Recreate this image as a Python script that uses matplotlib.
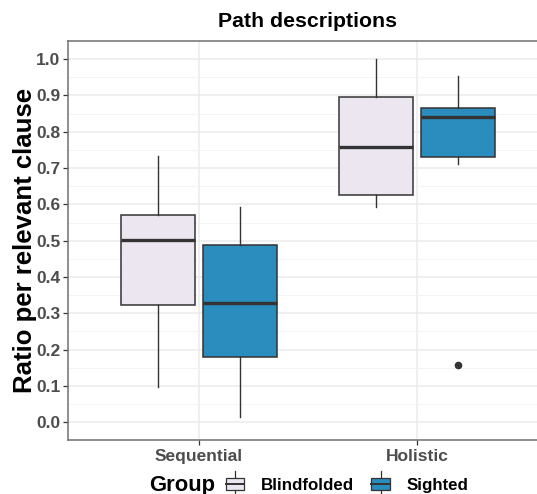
import matplotlib
matplotlib.use("Agg")
import matplotlib.pyplot as plt
from matplotlib.patches import Rectangle
from matplotlib.lines import Line2D
from matplotlib.legend_handler import HandlerBase
import numpy as np

plt.rcParams['font.family'] = ['Liberation Sans', 'DejaVu Sans']

categories = ["Sequential", "Holistic"]
groups = ["Blindfolded", "Sighted"]
colors = ["#ECE6F1", "#2B8CBE"]

# per group: values for [Sequential, Holistic]
whislo = {"Blindfolded": [0.097, 0.593], "Sighted": [0.015, 0.711]}
q1 = {"Blindfolded": [0.323, 0.626], "Sighted": [0.180, 0.731]}
med = {"Blindfolded": [0.501, 0.758], "Sighted": [0.328, 0.841]}
q3 = {"Blindfolded": [0.571, 0.896], "Sighted": [0.488, 0.866]}
whishi = {"Blindfolded": [0.734, 1.000], "Sighted": [0.593, 0.954]}
fliers = {"Blindfolded": [[], []], "Sighted": [[], [0.158]]}

W, H = 537, 494
fig = plt.figure(figsize=(W / 100, H / 100), dpi=100)
ax = fig.add_axes([68 / W, (H - 440) / H, (548 - 68) / W, (440 - 41) / H])

edge = "#333333"
offsets = [-0.1875, 0.1875]
bw = 0.3375
for gi, g in enumerate(groups):
    stats = []
    for ci in range(len(categories)):
        stats.append(dict(whislo=whislo[g][ci], q1=q1[g][ci], med=med[g][ci],
                          q3=q3[g][ci], whishi=whishi[g][ci], fliers=fliers[g][ci]))
    pos = [ci + 1 + offsets[gi] for ci in range(len(categories))]
    ax.bxp(stats, positions=pos, widths=bw, patch_artist=True, showcaps=False,
           boxprops=dict(facecolor=colors[gi], edgecolor=edge, linewidth=1.1),
           medianprops=dict(color=edge, linewidth=2.4, solid_capstyle='butt'),
           whiskerprops=dict(color=edge, linewidth=1.0),
           flierprops=dict(marker='o', markerfacecolor=edge, markeredgecolor=edge,
                           markersize=4.5), zorder=3)

ax.set_xlim(0.4, 2.6)
ax.set_ylim(-0.049, 1.050)
ax.set_xticks([1, 2])
ax.set_xticklabels(categories)
ax.set_yticks(np.round(np.arange(0, 1.01, 0.1), 1))
ax.set_yticklabels([f"{v:.1f}" for v in np.arange(0, 1.01, 0.1)])
ax.set_yticks(np.arange(0.05, 1.0, 0.1), minor=True)

ax.grid(True, which='major', color='#EBEBEB', linewidth=1.1, zorder=0)
ax.grid(True, which='minor', axis='y', color='#F2F2F2', linewidth=0.6, zorder=0)
ax.set_axisbelow(True)
for s in ax.spines.values():
    s.set_color('#707070')
    s.set_linewidth(1.1)

ax.tick_params(axis='both', which='major', length=3.5, width=0.9, color='#333333',
               labelcolor='#4D4D4D', labelsize=12.5, pad=2)
ax.tick_params(axis='x', which='major', pad=3)
ax.tick_params(axis='y', which='minor', length=0)
for lab in ax.get_xticklabels() + ax.get_yticklabels():
    lab.set_fontweight('bold')

ax.set_ylabel("Ratio per relevant clause", fontsize=18.5, fontweight='bold')
ax.yaxis.set_label_coords(-0.064, 0.5)
ax.set_title("Path descriptions", fontsize=15.3, fontweight='bold', pad=10)


class BoxHandler(HandlerBase):
    def __init__(self, fc):
        super().__init__()
        self.fc = fc

    def create_artists(self, legend, orig_handle, xdescent, ydescent, width, height,
                       fontsize, trans):
        x0, y0 = -xdescent, -ydescent
        bx0 = x0 + width * 0.08
        bx1 = x0 + width * 0.92
        by0 = y0
        by1 = y0 + height
        rect = Rectangle((bx0, by0), bx1 - bx0, by1 - by0, facecolor=self.fc,
                         edgecolor=edge, linewidth=0.9, transform=trans)
        cx = (bx0 + bx1) / 2
        ym = (by0 + by1) / 2
        m = Line2D([bx0, bx1], [ym, ym], color=edge, linewidth=1.4, transform=trans)
        w1 = Line2D([cx, cx], [by1, by1 + height * 0.55], color=edge, linewidth=0.9, transform=trans)
        w2 = Line2D([cx, cx], [by0, by0 - height * 0.55], color=edge, linewidth=0.9, transform=trans)
        return [w1, w2, rect, m]


handles = [Rectangle((0, 0), 1, 1) for _ in groups]
hmap = {h: BoxHandler(c) for h, c in zip(handles, colors)}
ly = (H - 485) / H
leg = fig.legend(handles, groups, handler_map=hmap, loc='center left',
                 bbox_to_anchor=(224 / W, ly), ncol=2, frameon=False,
                 handlelength=1.3, handleheight=0.72, handletextpad=0.9,
                 columnspacing=0.9, prop=dict(weight='bold', size=12.2),
                 borderaxespad=0, borderpad=0)
fig.text(149 / W, ly, "Group", fontsize=15.8, fontweight='bold', ha='left', va='center')

fig.savefig("out.png", dpi=100)
